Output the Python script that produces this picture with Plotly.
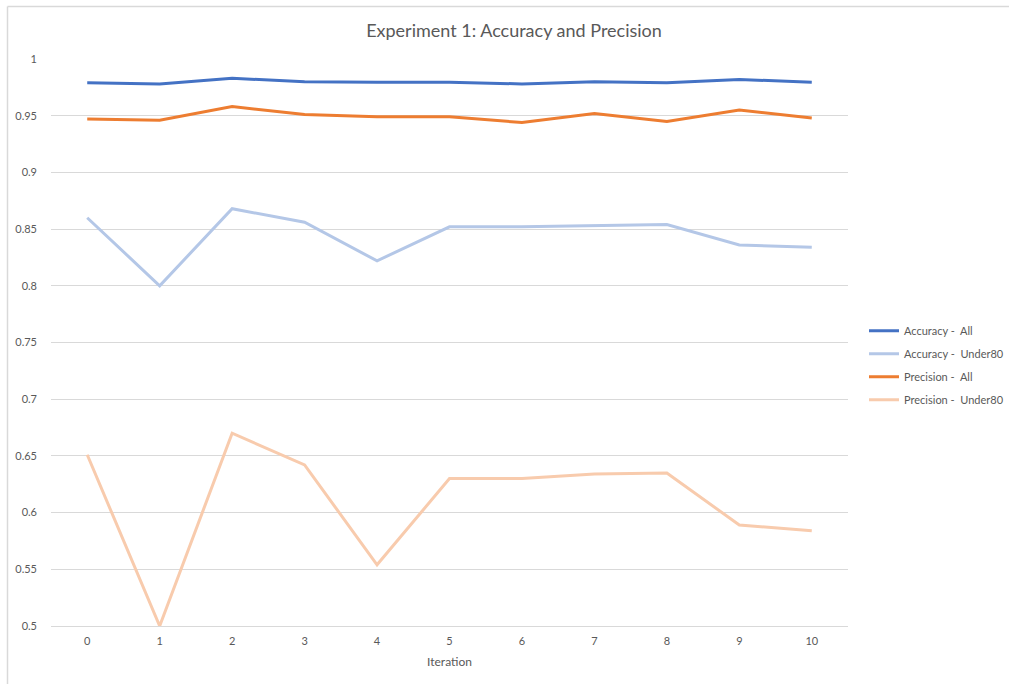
import plotly.graph_objects as go

iterations = ["0", "1", "2", "3", "4", "5", "6", "7", "8", "9", "10"]
accuracy_all = [0.979, 0.978, 0.983, 0.980, 0.9795, 0.9795, 0.978, 0.980, 0.979, 0.982, 0.9795]
accuracy_under80 = [0.860, 0.800, 0.868, 0.856, 0.822, 0.852, 0.852, 0.853, 0.854, 0.836, 0.834]
precision_all = [0.947, 0.946, 0.958, 0.951, 0.949, 0.949, 0.944, 0.952, 0.945, 0.955, 0.948]
precision_under80 = [0.651, 0.500, 0.670, 0.642, 0.554, 0.630, 0.630, 0.634, 0.635, 0.589, 0.584]
y_ticks = [0.5, 0.55, 0.6, 0.65, 0.7, 0.75, 0.8, 0.85, 0.9, 0.95, 1.0]
y_tick_labels = ["0.5", "0.55", "0.6", "0.65", "0.7", "0.75", "0.8", "0.85", "0.9", "0.95", "1"]

series = [
    ("Accuracy - \u00a0All", accuracy_all, "#4472C4"),
    ("Accuracy - \u00a0Under80", accuracy_under80, "#B4C7E7"),
    ("Precision - \u00a0All", precision_all, "#ED7D31"),
    ("Precision - \u00a0Under80", precision_under80, "#F8CBAD"),
]

FONT = "Lato, 'Open Sans', sans-serif"
fig = go.Figure()
for i, (name, vals, col) in enumerate(series):
    fig.add_trace(go.Scatter(
        x=iterations, y=vals, mode="lines", name=name,
        line=dict(color=col, width=3), legendgroup=f"g{i}",
    ))

W, H = 1009, 684
L, R, T, B = 51, 161, 59, 58
PW, PH = W - L - R, H - T - B
fig.update_layout(
    width=W, height=H,
    margin=dict(l=L, r=R, t=T, b=B, pad=0, autoexpand=False),
    paper_bgcolor="white", plot_bgcolor="white",
    font=dict(family=FONT, color="#595959", size=11),
    title=dict(text="Experiment 1: Accuracy and Precision", x=514 / W, xanchor="center",
               y=1 - 31 / H, yanchor="middle", font=dict(size=18, color="#595959", family=FONT)),
    showlegend=True,
    legend=dict(x=(864 - L) / PW, xanchor="left", y=0.46, yanchor="middle", tracegroupgap=4,
                font=dict(size=11, color="#595959", family=FONT), bgcolor="rgba(0,0,0,0)"),
    xaxis=dict(
        type="category", range=[-0.5, 10.5], showgrid=False, showline=True,
        linecolor="#D9D9D9", linewidth=1, ticks="", tickfont=dict(size=11, color="#595959"),
        ticklabelstandoff=5,
        title=dict(text="Iteration", font=dict(size=12, color="#595959"), standoff=11),
    ),
    yaxis=dict(
        range=[0.5, 1.0], tickvals=y_ticks, ticktext=y_tick_labels, showgrid=True,
        gridcolor="#D9D9D9", gridwidth=1, zeroline=False, showline=False, ticks="",
        tickfont=dict(size=11, color="#595959"), ticklabelstandoff=13,
    ),
    shapes=[
        dict(type="line", xref="paper", yref="paper", x0=(7.5 - L) / PW, x1=(7.5 - L) / PW,
             y0=1 + (T - 6.5) / PH, y1=-(B + 5) / PH, line=dict(color="#D9D9D9", width=1.5)),
        dict(type="line", xref="paper", yref="paper", x0=(7.5 - L) / PW, x1=(W + 5 - L) / PW,
             y0=1 + (T - 6.5) / PH, y1=1 + (T - 6.5) / PH, line=dict(color="#D9D9D9", width=1.5)),
    ],
)
fig.write_html("out.html", config={"displayModeBar": False},
               post_script="document.body.style.margin='0px';")
